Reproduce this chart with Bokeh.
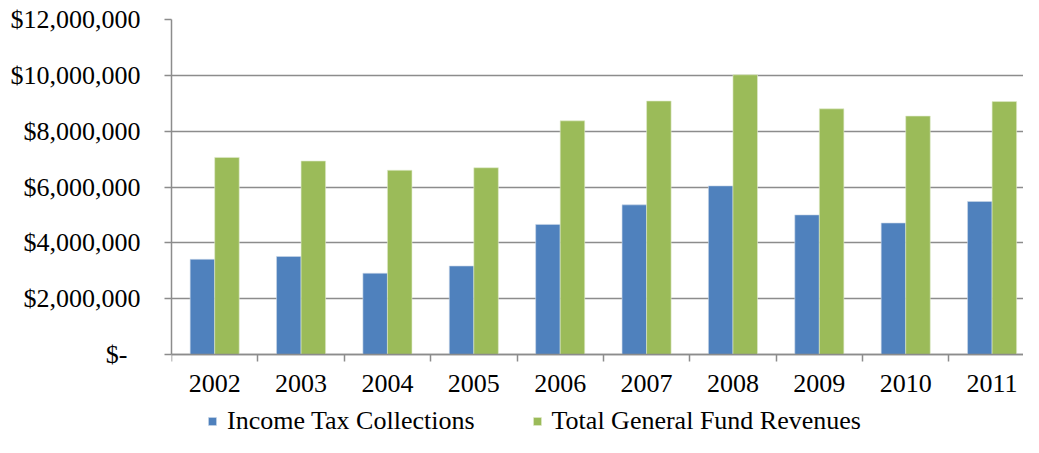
import numpy as np
from bokeh.plotting import figure
from bokeh.models import (Range1d, FixedTicker, Legend, LegendItem, ColumnDataSource)
from bokeh.transform import dodge
from bokeh.embed import file_html
from bokeh.resources import INLINE

years = ["2002", "2003", "2004", "2005", "2006", "2007", "2008", "2009", "2010", "2011"]
income_tax = [3410000, 3510000, 2910000, 3170000, 4660000, 5360000, 6040000, 5000000, 4710000, 5480000]
total_general_fund = [7060000, 6930000, 6600000, 6690000, 8370000, 9080000, 10020000, 8800000, 8540000, 9060000]
y_ticks = [0, 2000000, 4000000, 6000000, 8000000, 10000000, 12000000]
y_tick_labels = ["$-\u00a0\u00a0", "$2,000,000", "$4,000,000", "$6,000,000", "$8,000,000", "$10,000,000", "$12,000,000"]

BLUE = "#4F81BD"
GREEN = "#9BBB59"
GRID = "#8C8C8C"
FONT = "Liberation Serif"
FS = "26px"

W, H = 1023, 437
LEFT, TOP = 171, 19
ZERO_Y = 354                      # screen row of the zero line
PX_PER_UNIT = (ZERO_Y - TOP) / 12000000
Y_MIN = -(H - ZERO_Y) / PX_PER_UNIT   # room below zero for labels and legend
X_END = 868 / 88                  # visible part of the category axis (last group is cut)

centers = [i + 0.5 for i in range(len(years))]
src = ColumnDataSource(dict(x=centers, income=income_tax, total=total_general_fund))

p = figure(width=W, height=H, output_backend="svg", toolbar_location=None,
           x_range=Range1d(0, X_END), y_range=Range1d(Y_MIN, 12000000),
           min_border_left=LEFT, min_border_right=0, min_border_top=TOP, min_border_bottom=0)
p.outline_line_color = None
p.background_fill_color = "white"
p.border_fill_color = "white"

r1 = p.vbar(x=dodge("x", -0.142), top="income", width=0.284, source=src,
            fill_color=BLUE, line_color="#C9D6E8", line_width=0.6)
r2 = p.vbar(x=dodge("x", 0.142), top="total", width=0.284, source=src,
            fill_color=GREEN, line_color="#E1EBCD", line_width=0.6)

# y axis
yax = p.yaxis[0]
yax.ticker = FixedTicker(ticks=y_ticks, minor_ticks=[])
yax.bounds = (0, 12000000)
yax.major_label_overrides = {float(t): l for t, l in zip(y_ticks, y_tick_labels)}
yax.major_tick_out = 7
yax.major_tick_in = 0
yax.major_label_standoff = 24
yax.axis_line_color = GRID
yax.axis_line_width = 1.5
yax.major_tick_line_color = GRID
yax.major_tick_line_width = 1.5
yax.major_label_text_font = FONT
yax.major_label_text_font_size = FS
yax.major_label_text_color = "black"

# x axis (drawn on the zero line)
xax = p.xaxis[0]
xax.fixed_location = 0
xax.ticker = FixedTicker(ticks=centers, minor_ticks=list(range(len(years) + 1)))
xax.major_label_overrides = {float(c): y for c, y in zip(centers, years)}
xax.major_tick_out = 0
xax.major_tick_in = 0
xax.minor_tick_out = 7
xax.minor_tick_in = 0
xax.minor_tick_line_color = GRID
xax.minor_tick_line_width = 1.5
xax.major_label_standoff = 13
xax.axis_line_color = GRID
xax.axis_line_width = 1.5
xax.major_label_text_font = FONT
xax.major_label_text_font_size = FS
xax.major_label_text_color = "black"

p.xgrid.grid_line_color = None
p.ygrid.ticker = FixedTicker(ticks=y_ticks)
p.ygrid.grid_line_color = GRID
p.ygrid.grid_line_width = 1.5

legend = Legend(items=[LegendItem(label="Income Tax Collections", renderers=[r1]),
                       LegendItem(label="Total General Fund Revenues", renderers=[r2])],
                orientation="horizontal", location=(36, 1),
                border_line_color=None, background_fill_alpha=0,
                label_text_font=FONT, label_text_font_size=FS, label_text_color="black",
                glyph_width=10, glyph_height=10, label_standoff=10, spacing=57,
                padding=0, margin=0)
p.add_layout(legend, "center")

open("out.html", "w").write(file_html(p, INLINE))
